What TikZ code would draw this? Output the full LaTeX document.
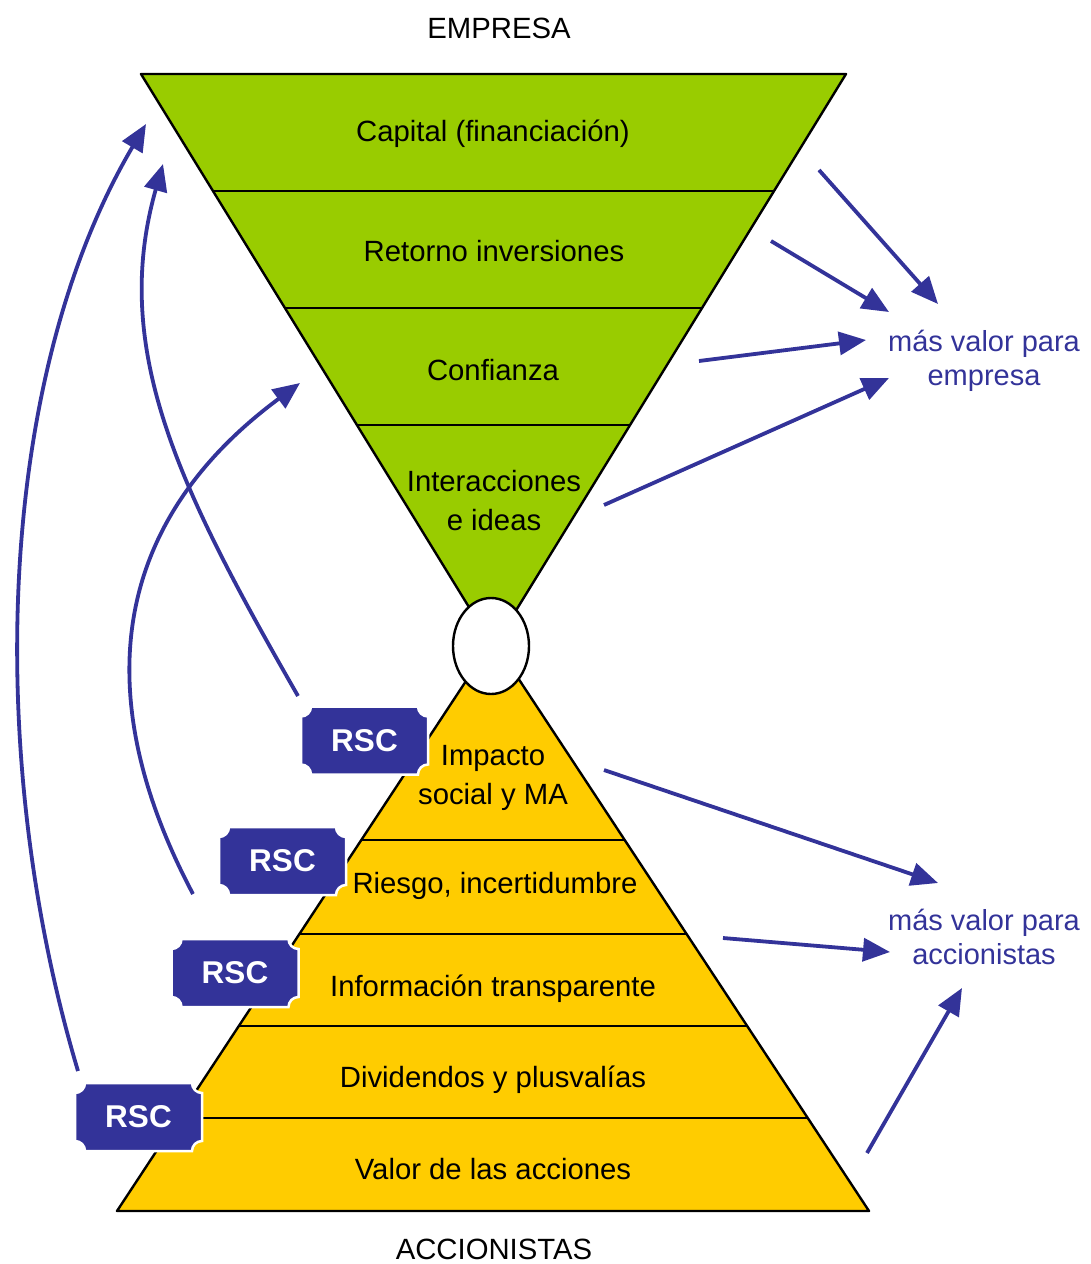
\documentclass[tikz,border=0pt]{standalone}
\usepackage{fontspec}
\setmainfont{Liberation Sans}
\usetikzlibrary{arrows.meta,shapes.geometric}
\definecolor{leaf}{HTML}{99CC00}
\definecolor{gold}{HTML}{FFCC00}
\definecolor{navy}{HTML}{333399}

% RSC plaque: rectangle with concave quarter-circle corners
\newcommand\rscbadge[2]{%
  \begin{scope}[shift={(#2)}]
    \filldraw[badgefill]
      (-63.5,-24) .. controls (-58,-24) and (-53.5,-28.5) .. (-53.5,-34)
      -- (53.5,-34) .. controls (53.5,-28.5) and (58,-24) .. (63.5,-24)
      -- (63.5,24) .. controls (58,24) and (53.5,28.5) .. (53.5,34)
      -- (-53.5,34) .. controls (-53.5,28.5) and (-58,24) .. (-63.5,24)
      -- cycle;
    \node[badgetext] (#1) at (0,0) {RSC};
  \end{scope}}

\begin{document}
\begin{tikzpicture}[x=1pt,y=-1pt,
  lbl/.style={font=\fontsize{29.3}{39}\selectfont, align=center, inner sep=0pt},
  side/.style={font=\fontsize{29}{34}\selectfont, align=center, text=navy, inner sep=0pt},
  flow/.style={draw=navy, line width=3.8pt, -{Triangle[length=27pt,width=23pt]}},
  edge/.style={line width=2.4pt, line join=round},
  badgetext/.style={font=\fontsize{31.5}{36}\selectfont\bfseries, text=white, inner sep=0pt},
  badgefill/.style={fill=navy, draw=white, line width=2.5pt}]
\useasboundingbox (0,0) rectangle (1090,1264);

% funnel of the company
\filldraw[fill=leaf, edge] (141,74) -- (846,74) -- (493.5,647) -- cycle;
\draw[edge] (213,191) -- (774,191);
\draw[edge] (285,308) -- (702,308);
\draw[edge] (357,425) -- (630,425);

% pyramid of the shareholders
\filldraw[fill=gold, edge] (117,1211) -- (869,1211) -- (493,640) -- cycle;
\draw[edge] (361.3,840) -- (624.7,840);
\draw[edge] (299.4,934) -- (686.6,934);
\draw[edge] (238.8,1026) -- (747.2,1026);
\draw[edge] (178.2,1118) -- (807.8,1118);

\node[ellipse, draw, fill=white, line width=2.4pt, minimum width=76pt, minimum height=96pt, inner sep=0pt] (hub) at (491,646) {};

% labels
\node[lbl] (empresa) at (499,28) {EMPRESA};
\node[lbl] (accionistas) at (494,1249) {ACCIONISTAS};
\node[lbl] (capital) at (493,134) {Capital (financiación)};
\node[lbl] (retorno) at (494,251.5) {Retorno inversiones};
\node[lbl] (confianza) at (493,370.5) {Confianza};
\node[lbl] (interac) at (494,501) {Interacciones\\e ideas};
\node[lbl] (impacto) at (493,778) {Impacto\\social y MA};
\node[lbl] (riesgo) at (495,886) {Riesgo, incertidumbre};
\node[lbl] (info) at (493,989) {Información transparente};
\node[lbl] (divid) at (493,1080) {Dividendos y plusvalías};
\node[lbl] (valor) at (493,1169) {Valor de las acciones};

\node[side] (vempresa) at (984,361) {más valor para\\empresa};
\node[side] (vaccion) at (984,937) {más valor para\\accionistas};

% arrow ends
\coordinate (e1s) at (819,170);  \coordinate (e1t) at (938,304);
\coordinate (e2s) at (771,241);  \coordinate (e2t) at (889,312);
\coordinate (e3s) at (699,361);  \coordinate (e3t) at (866,340);
\coordinate (e4s) at (604,505);  \coordinate (e4t) at (889,378);
\coordinate (a1s) at (604,770);  \coordinate (a1t) at (938,883);
\coordinate (a2s) at (723,938);  \coordinate (a2t) at (890,952);
\coordinate (a3s) at (867,1153); \coordinate (a3t) at (962,988);

\draw[flow] (e1s) -- (e1t);
\draw[flow] (e2s) -- (e2t);
\draw[flow] (e3s) -- (e3t);
\draw[flow] (e4s) -- (e4t);
\draw[flow] (a1s) -- (a1t);
\draw[flow] (a2s) -- (a2t);
\draw[flow] (a3s) -- (a3t);

% curved links from the RSC plaques back up to the company
\coordinate (r1s) at (298,696);  \coordinate (r1t) at (163,164);
\coordinate (r2s) at (193,894);  \coordinate (r2t) at (300,383);
\coordinate (r4s) at (78,1071);  \coordinate (r4t) at (146,124);

\draw[flow] (r4s) .. controls (-15,760) and (-5,380) .. (r4t);
\draw[flow] (r2s) .. controls (85,690) and (115,520) .. (r2t);
\draw[flow] (r1s) .. controls (180,490) and (110,350) .. (r1t);

% plaques
\rscbadge{rsc1}{364.5,740.5}
\rscbadge{rsc2}{282.5,861}
\rscbadge{rsc3}{235,973}
\rscbadge{rsc4}{138.5,1117}
\end{tikzpicture}
\end{document}
